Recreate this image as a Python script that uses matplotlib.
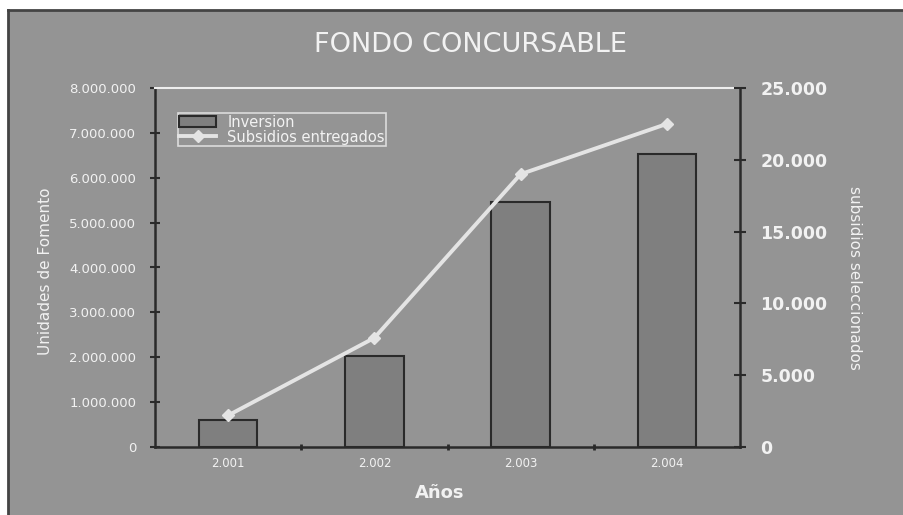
import matplotlib.pyplot as plt
from matplotlib.patches import Rectangle
from matplotlib.ticker import FuncFormatter

# ---------------- datos ----------------
anios = ["2.001", "2.002", "2.003", "2.004"]
inversion = [600000, 2030000, 5460000, 6530000]
subsidios = [2200, 7600, 19000, 22500]

BG = "#949494"
TXT = "#f2f2f2"
DARK = "#2a2a2a"


def miles(v, pos):
    return f"{int(round(v)):,}".replace(",", ".")


fig = plt.figure(figsize=(9.0301, 5.1501), dpi=100)
fig.patch.set_facecolor(BG)

# franja blanca arriba y a la izquierda, borde oscuro
top = 1 - 10 / 515
left = 8 / 903
fig.add_artist(Rectangle((0, top), 1, 1 - top, transform=fig.transFigure,
                         facecolor="white", edgecolor="none", zorder=-10))
fig.add_artist(Rectangle((0, 0), left, 1, transform=fig.transFigure,
                         facecolor="white", edgecolor="none", zorder=-10))
fig.add_artist(plt.Line2D([left, left], [0, top], color="#444444",
                          linewidth=2, transform=fig.transFigure, zorder=-9))
fig.add_artist(plt.Line2D([left, 1], [top, top], color="#444444",
                          linewidth=2, transform=fig.transFigure, zorder=-9))

ax = fig.add_axes([155 / 903, 1 - 447 / 515, 585 / 903, 359 / 515])
ax.set_facecolor(BG)
x = list(range(len(anios)))

bars = ax.bar(x, inversion, width=0.4, color="#7f7f7f", edgecolor=DARK,
              linewidth=1.5, label="Inversion", zorder=2)
ax.set_xlim(-0.5, 3.5)
ax.set_ylim(0, 8000000)
ax.set_yticks(range(0, 8000001, 1000000))
ax.yaxis.set_major_formatter(FuncFormatter(miles))
ax.tick_params(axis="y", direction="inout", length=7, width=1.5, color=DARK,
               labelsize=9.5, labelcolor=TXT, pad=10)
ax.set_xticks([0.5, 1.5, 2.5], minor=False)
ax.set_xticklabels([])
ax.set_xticks(x, minor=True)
ax.set_xticklabels(anios, minor=True)
ax.tick_params(axis="x", which="major", direction="inout", length=4, width=2, color=DARK)
ax.tick_params(axis="x", which="minor", length=0, labelsize=8.5, labelcolor=TXT, pad=7)

for s in ["left", "bottom"]:
    ax.spines[s].set_color(DARK)
    ax.spines[s].set_linewidth(1.8)
ax.spines["right"].set_visible(False)
ax.spines["top"].set_color("#eeeeee")
ax.spines["top"].set_linewidth(1.5)

ax.set_ylabel("Unidades de Fomento", color=TXT, fontsize=11)
ax.yaxis.set_label_coords(-102 / 585, 0.49)
ax.set_xlabel("Años", color=TXT, fontsize=13, fontweight="bold")
ax.xaxis.set_label_coords(0.487, -37 / 359)
ax.text(0.54, 1 + 43 / 359, "FONDO CONCURSABLE", transform=ax.transAxes,
        color=TXT, fontsize=19.5, ha="center", va="center")

ax2 = ax.twinx()
line, = ax2.plot(x, subsidios, color="#e4e4e4", linewidth=2.8, marker="D",
                 markersize=6, label="Subsidios entregados", zorder=3)
ax2.set_ylim(0, 25000)
ax2.set_yticks(range(0, 25001, 5000))
ax2.yaxis.set_major_formatter(FuncFormatter(miles))
ax2.tick_params(axis="y", direction="inout", length=9, width=1.5, color=DARK,
                labelsize=12.5, labelcolor=TXT, pad=10)
for lab in ax2.get_yticklabels():
    lab.set_fontweight("bold")
ax2.spines["right"].set_color(DARK)
ax2.spines["right"].set_linewidth(1.8)
for s in ["left", "bottom", "top"]:
    ax2.spines[s].set_visible(False)
ax2.set_ylabel("subsidios seleccionados", color=TXT, fontsize=11, rotation=270)
ax2.yaxis.set_label_coords(1 + 122 / 585, 0.47)

leg = ax2.legend([bars, line], ["Inversion", "Subsidios entregados"],
                 loc="upper left", bbox_to_anchor=(0.039, 0.93), fontsize=10.5,
                 frameon=True, fancybox=False, facecolor=BG, edgecolor="#eeeeee",
                 labelcolor=TXT, borderpad=0.1, handlelength=2.5,
                 labelspacing=0.0, borderaxespad=0)
leg.get_frame().set_linewidth(1.2)

plt.savefig("out.png", dpi=100, facecolor=fig.get_facecolor())
